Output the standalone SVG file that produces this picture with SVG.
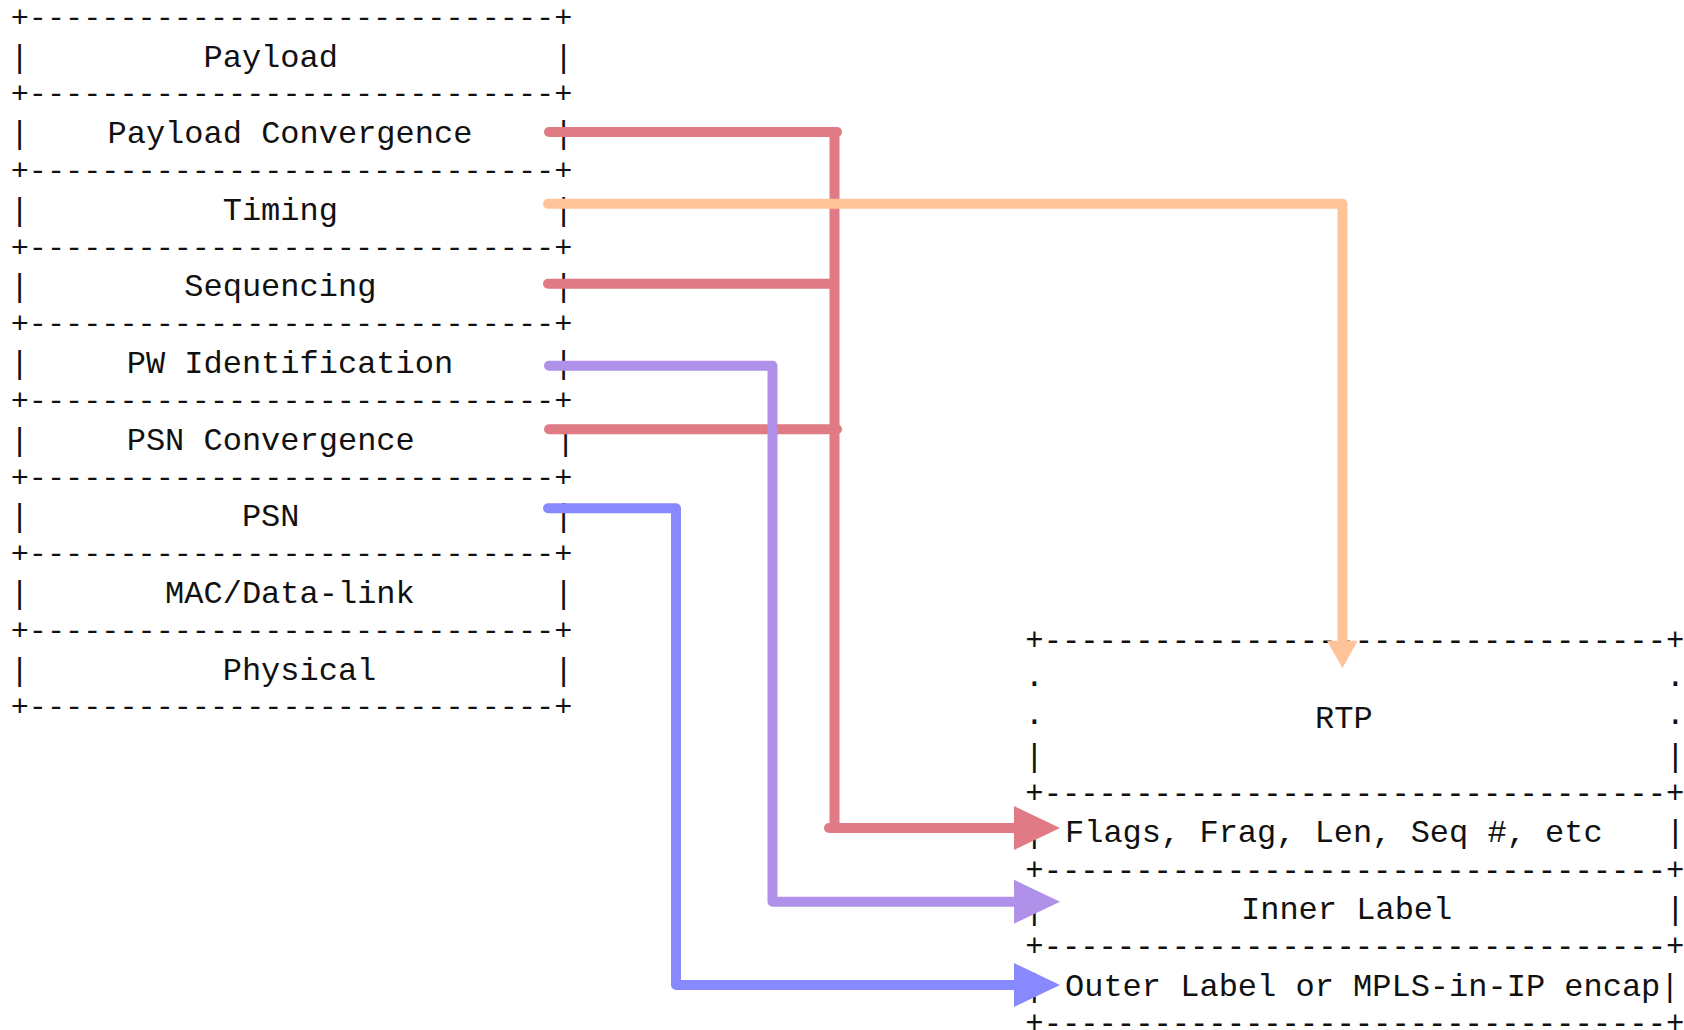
<svg xmlns="http://www.w3.org/2000/svg" width="1684" height="1030" viewBox="0 0 1684 1030">
<style>
.t{font-family:"Liberation Mono","Courier New",monospace;font-size:32px;fill:#111}
.b{font-family:"Liberation Mono","Courier New",monospace;font-size:30.2px;fill:#111;text-anchor:middle}
.rb{font-size:30.5px}
.m{text-anchor:middle}
.c{fill:none;stroke-width:10;stroke-linecap:round;stroke-linejoin:round}
.red{stroke:#E07A84}.redf{fill:#E07A84}
.org{stroke:#FFC39A}.orgf{fill:#FFC39A}
.pur{stroke:#AF91E9}.purf{fill:#AF91E9}
.blu{stroke:#8888FF}.bluf{fill:#8888FF}
</style>
<rect width="1684" height="1030" fill="#fff"/>
<g id="stack-borders">
<text class="b" x="291.5" y="26.8">+-----------------------------+</text>
<text class="b" x="291.5" y="103.4">+-----------------------------+</text>
<text class="b" x="291.5" y="180">+-----------------------------+</text>
<text class="b" x="291.5" y="256.6">+-----------------------------+</text>
<text class="b" x="291.5" y="333.2">+-----------------------------+</text>
<text class="b" x="291.5" y="409.9">+-----------------------------+</text>
<text class="b" x="291.5" y="486.5">+-----------------------------+</text>
<text class="b" x="291.5" y="563.1">+-----------------------------+</text>
<text class="b" x="291.5" y="639.7">+-----------------------------+</text>
<text class="b" x="291.5" y="716.3">+-----------------------------+</text>
</g>
<g id="payload"><text class="t m" x="19.5" y="66.6">|</text><text class="t" x="203.5" y="66.6">Payload</text><text class="t m" x="563.5" y="66.6">|</text></g>
<g id="payload-convergence"><text class="t m" x="19.5" y="143.2">|</text><text class="t" x="107.5" y="143.2">Payload Convergence</text><text class="t m" x="563.5" y="143.2">|</text></g>
<g id="timing"><text class="t m" x="19.5" y="219.8">|</text><text class="t" x="222.7" y="219.8">Timing</text><text class="t m" x="563.5" y="219.8">|</text></g>
<g id="sequencing"><text class="t m" x="19.5" y="296.4">|</text><text class="t" x="184.3" y="296.4">Sequencing</text><text class="t m" x="563.5" y="296.4">|</text></g>
<g id="pw-identification"><text class="t m" x="19.5" y="373">|</text><text class="t" x="126.7" y="373">PW Identification</text><text class="t m" x="563.5" y="373">|</text></g>
<g id="psn-convergence"><text class="t m" x="19.5" y="449.7">|</text><text class="t" x="126.7" y="449.7">PSN Convergence</text><text class="t m" x="565.5" y="449.7">|</text></g>
<g id="psn"><text class="t m" x="19.5" y="526.3">|</text><text class="t" x="241.9" y="526.3">PSN</text><text class="t m" x="563.5" y="526.3">|</text></g>
<g id="mac-data-link"><text class="t m" x="19.5" y="602.9">|</text><text class="t" x="165.1" y="602.9">MAC/Data-link</text><text class="t m" x="563.5" y="602.9">|</text></g>
<g id="physical"><text class="t m" x="19.5" y="679.5">|</text><text class="t" x="222.7" y="679.5">Physical</text><text class="t m" x="563.5" y="679.5">|</text></g>
<g id="encap-borders">
<text class="b rb" x="1354.8" y="649.7">+----------------------------------+</text>
<text class="b rb" x="1354.8" y="802.9">+----------------------------------+</text>
<text class="b rb" x="1354.8" y="879.5">+----------------------------------+</text>
<text class="b rb" x="1354.8" y="956.1">+----------------------------------+</text>
<text class="b rb" x="1354.8" y="1032.7">+----------------------------------+</text>
</g>
<g id="rtp">
<text class="t m" x="1034.3" y="685.5">.</text><text class="t m" x="1675.4" y="685.5">.</text>
<text class="t m" x="1034.3" y="724">.</text><text class="t m" x="1675.4" y="724">.</text>
<text class="t" x="1315" y="727.8">RTP</text>
<text class="t m" x="1034.3" y="766">|</text><text class="t m" x="1675.4" y="766">|</text>
</g>
<g id="flags"><text class="t m" x="1034.3" y="842.4">|</text><text class="t" x="1065" y="842.4">Flags, Frag, Len, Seq #, etc</text><text class="t m" x="1675.4" y="842.4">|</text></g>
<g id="inner-label"><text class="t m" x="1034.3" y="919.1">|</text><text class="t" x="1241" y="919.1">Inner Label</text><text class="t m" x="1675.4" y="919.1">|</text></g>
<g id="outer-label"><text class="t m" x="1034.3" y="995.8">|</text><text class="t" x="1065" y="995.8">Outer Label or MPLS-in-IP encap|</text></g>
<g id="connectors">
<path class="c red" d="M549 132H837"/>
<path class="c red" d="M548 283.7H834"/>
<path class="c red" d="M549 429.3H837"/>
<path class="c red" d="M834.5 132V828"/>
<path class="c red" d="M829 828H1018"/>
<polygon class="redf" points="1014,806 1060,828 1014,850"/>
<path class="c org" d="M548 203.7H1342.5V645"/>
<polygon class="orgf" points="1327,640.7 1357.5,640.7 1342.5,668.3"/>
<path class="c pur" d="M549 365.7H772.5V901.7H1018"/>
<polygon class="purf" points="1014,879.7 1060,901.7 1014,923.7"/>
<path class="c blu" d="M548 508.3H676V985H1018"/>
<polygon class="bluf" points="1014,963 1060,985 1014,1007"/>
</g>
</svg>
